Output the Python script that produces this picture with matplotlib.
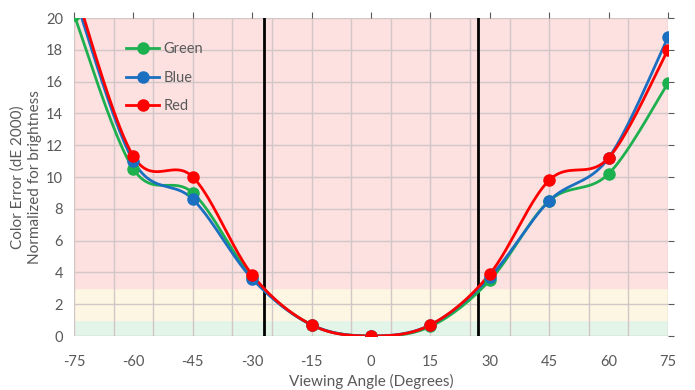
import numpy as np
import matplotlib.pyplot as plt

# data
angles = [-75, -60, -45, -30, -15, 0, 15, 30, 45, 60, 75]
green = [20.2, 10.5, 9.0, 3.7, 0.7, 0.0, 0.6, 3.5, 8.5, 10.2, 15.9]
blue = [21.5, 11.0, 8.6, 3.6, 0.7, 0.0, 0.7, 3.7, 8.5, 11.2, 18.8]
red = [22.0, 11.3, 10.0, 3.85, 0.7, 0.0, 0.7, 3.9, 9.8, 11.2, 18.0]
limits = [-27, 27]

series = [('Green', green, '#1db04f'), ('Blue', blue, '#1a6fc0'), ('Red', red, '#ff0000')]


def smooth(x, y, n=40):
    # Excel-like smoothed line: Catmull-Rom bezier segments
    x = np.asarray(x, float)
    y = np.asarray(y, float)
    px = np.concatenate([[x[0]], x, [x[-1]]])
    py = np.concatenate([[y[0]], y, [y[-1]]])
    xs, ys = [], []
    t = np.linspace(0, 1, n)
    for i in range(1, len(px) - 2):
        p0 = np.array([px[i], py[i]])
        p3 = np.array([px[i + 1], py[i + 1]])
        c1 = p0 + (np.array([px[i + 1], py[i + 1]]) - np.array([px[i - 1], py[i - 1]])) / 6
        c2 = p3 - (np.array([px[i + 2], py[i + 2]]) - np.array([px[i], py[i]])) / 6
        b = (np.outer((1 - t) ** 3, p0) + np.outer(3 * (1 - t) ** 2 * t, c1)
             + np.outer(3 * (1 - t) * t ** 2, c2) + np.outer(t ** 3, p3))
        xs.append(b[:, 0])
        ys.append(b[:, 1])
    return np.concatenate(xs), np.concatenate(ys)


plt.rcParams['font.family'] = ['Lato', 'DejaVu Sans']
plt.rcParams['axes.unicode_minus'] = False
fig = plt.figure(figsize=(6.95, 3.9), dpi=100)
ax = fig.add_axes([74 / 695, 1 - 336 / 390, 594 / 695, 318 / 390])

# quality bands
ax.axhspan(0, 1, color='#e3f4e8', zorder=0)
ax.axhspan(1, 3, color='#fdf6e3', zorder=0)
ax.axhspan(3, 20, color='#fde1e1', zorder=0)

for gx in range(-65, 75, 10):
    ax.axvline(gx, color='#d3c6c6', lw=1, zorder=1)
for gy in range(2, 21, 2):
    ax.axhline(gy, color='#d3c6c6', lw=1, zorder=1)

for lx in limits:
    ax.axvline(lx, color='black', lw=2, zorder=4)

for name, vals, col in series:
    sx, sy = smooth(angles, vals)
    ax.plot(sx, sy, color=col, lw=2, zorder=5)
    ax.plot(angles, vals, 'o', color=col, ms=8, zorder=6, label=name)

# legend handles with line + marker
handles = [plt.Line2D([], [], color=c, lw=2, marker='o', ms=8) for _, _, c in series]
ax.legend(handles, [s[0] for s in series], loc='upper left', bbox_to_anchor=(0.065, 0.965),
          frameon=False, fontsize=10.5, labelcolor='#595959', handlelength=2.3,
          labelspacing=1.0, handletextpad=0.3)

ax.set_xlim(-75, 75)
ax.set_ylim(0, 20)
ax.set_xticks(range(-75, 76, 15))
ax.set_yticks(range(0, 21, 2))
ax.tick_params(axis='both', colors='#595959', labelsize=10.5, length=0, pad=8)
ax.tick_params(axis='x', pad=14)
# small marks on top and right edges
ax.tick_params(top=True, right=True, labeltop=False, labelright=False)
ax.tick_params(axis='x', which='both', top=True, length=0)
for tk in ax.xaxis.get_major_ticks():
    tk.tick2line.set_markersize(4)
    tk.tick2line.set_color('#bfbfbf')
for tk in ax.yaxis.get_major_ticks():
    tk.tick2line.set_markersize(4)
    tk.tick2line.set_color('#bfbfbf')
for s in ax.spines.values():
    s.set_visible(False)
ax.axhline(0, color='#bfbfbf', lw=1, zorder=2)
ax.axvline(-75, color='#d3c6c6', lw=1, zorder=2)
ax.axvline(75, color='#d3c6c6', lw=1, zorder=2)

ax.set_xlabel('Viewing Angle (Degrees)', color='#595959', fontsize=11, labelpad=3)
ax.set_ylabel('Color Error (dE 2000)\nNormalized for brightness', color='#595959',
              fontsize=11, labelpad=3, linespacing=1.25)

fig.savefig('out.png', dpi=100)
